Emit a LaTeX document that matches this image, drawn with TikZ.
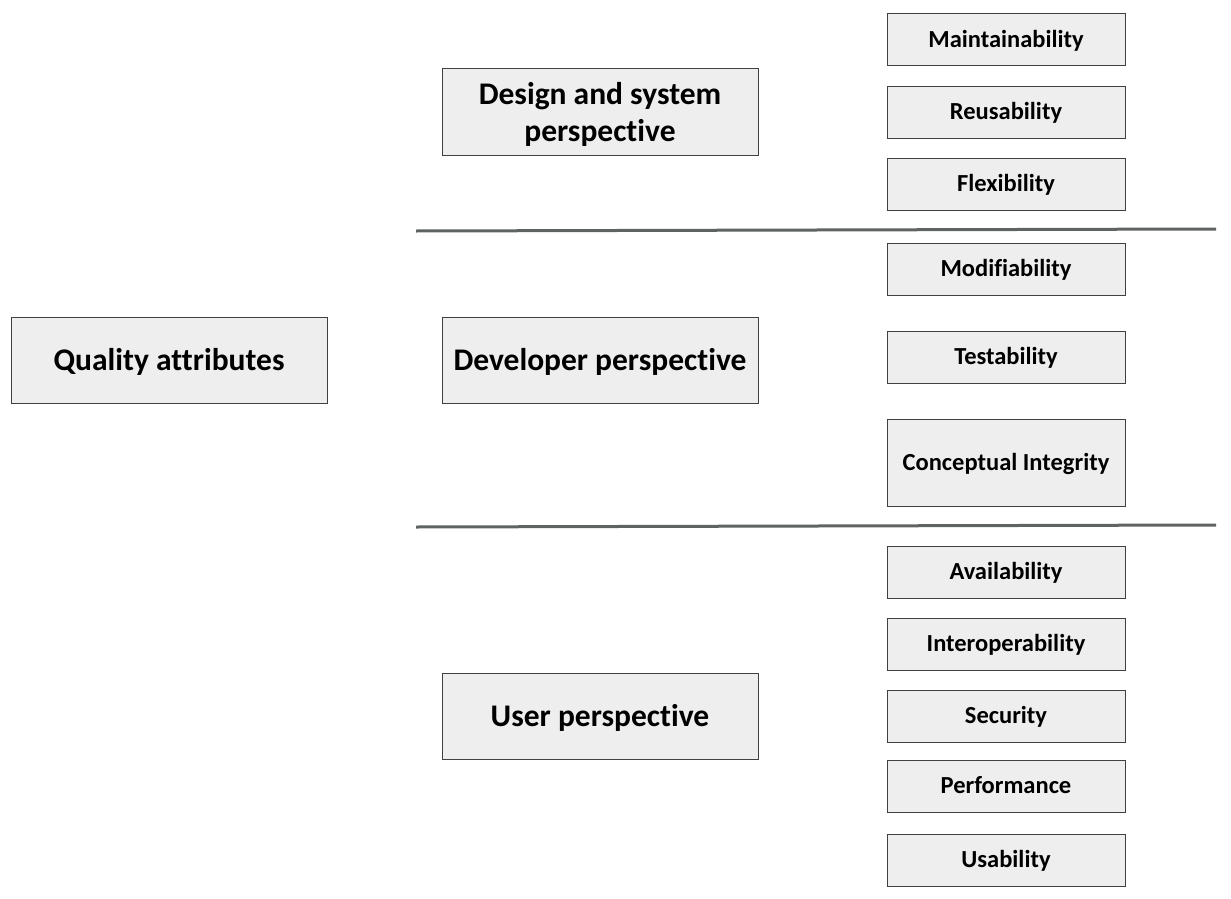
\documentclass[tikz,border=0pt]{standalone}
\usepackage{fontspec}
\setmainfont{Carlito}[Ligatures=NoCommon]
\usepackage{tikz}
\usetikzlibrary{positioning}

\definecolor{boxfill}{HTML}{EEEEEE}
\definecolor{boxline}{HTML}{404040}
\definecolor{sepline}{HTML}{5F6361}

\newcommand{\boxline}[1]{\raisebox{0pt}[28pt][7pt]{#1}}

\tikzset{
  bigbox/.style={draw=boxline, fill=boxfill, line width=1pt, minimum width=316pt, minimum height=86pt, align=center, font=\bfseries\fontsize{31.5}{37}\selectfont, inner sep=0pt, text height=28pt, text depth=8pt},
  attrbox/.style={draw=boxline, fill=boxfill, line width=1pt, minimum width=238pt, minimum height=52pt, font=\bfseries\fontsize{24.5}{29}\selectfont, inner sep=0pt, text height=22pt, text depth=6.4pt},
  sep/.style={draw=sepline, line width=3pt}
}

\begin{document}
\begin{tikzpicture}[x=1pt,y=-1pt]
\useasboundingbox (0,0) rectangle (1231,899);
% left and middle column
\node[bigbox] (quality) at (169,360) {Quality attributes};
\node[bigbox, text height=, text depth=] (design) at (600,112) {\boxline{Design and system}\\\boxline{perspective}};
\node[bigbox] (developer) at (600,360) {Developer perspective};
\node[bigbox] (user) at (600,716) {User perspective};
% right column
\node[attrbox] (maint) at (1006,40) {Maintainability};
\node[attrbox] (reuse) at (1006,112) {Reusability};
\node[attrbox] (flex) at (1006,184) {Flexibility};
\node[attrbox] (modif) at (1006,269) {Modifiability};
\node[attrbox] (test) at (1006,357) {Testability};
\node[attrbox, minimum height=87pt] (concept) at (1006,462.5) {Conceptual Integrity};
\node[attrbox] (avail) at (1006,572) {Availability};
\node[attrbox] (interop) at (1006,644) {Interoperability};
\node[attrbox] (secur) at (1006,716) {Security};
\node[attrbox] (perf) at (1006,786) {Performance};
\node[attrbox] (usab) at (1006,860) {Usability};
% separators
\coordinate (s1a) at (416,231);
\coordinate (s1b) at (1216,229);
\coordinate (s2a) at (416,527);
\coordinate (s2b) at (1216,525);
\draw[sep] (s1a) -- (s1b);
\draw[sep] (s2a) -- (s2b);
\end{tikzpicture}
\end{document}
